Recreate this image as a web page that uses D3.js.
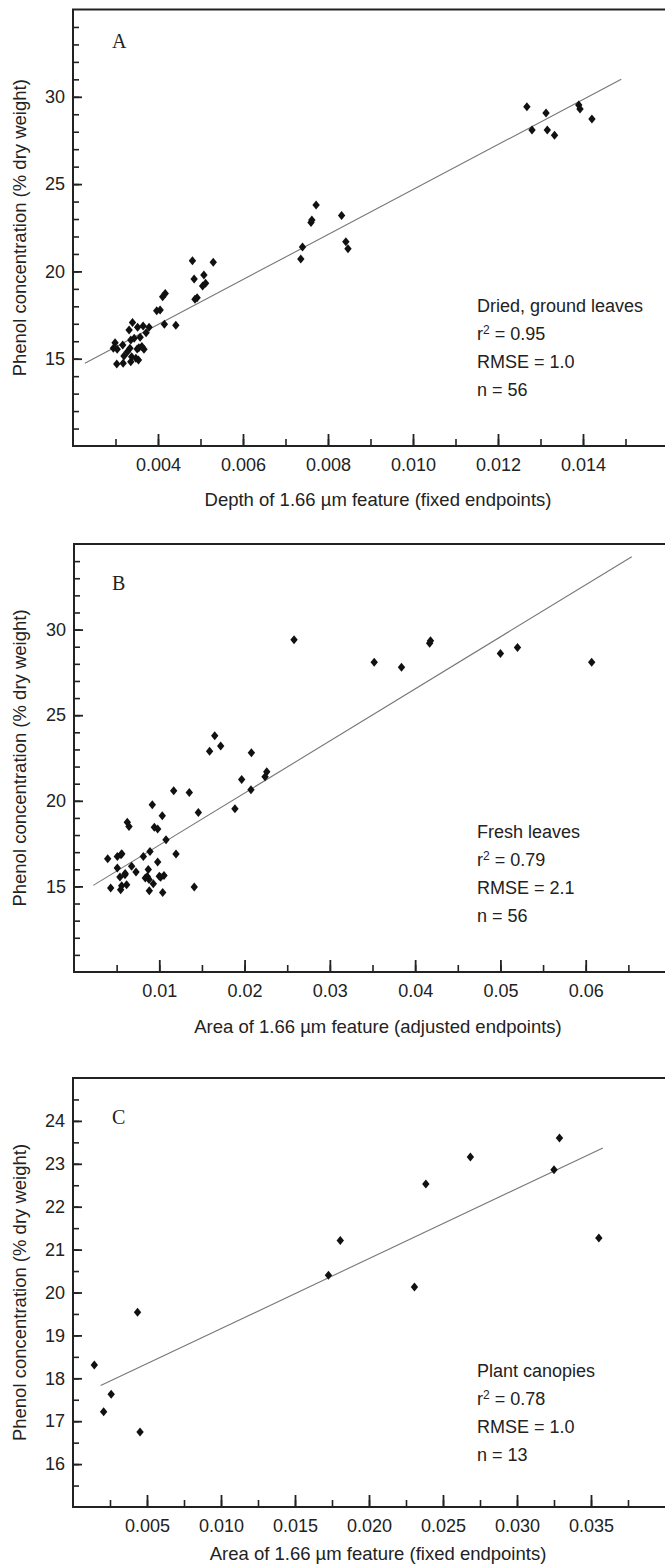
<!DOCTYPE html>
<html>
<head>
<meta charset="utf-8">
<script src="https://cdn.jsdelivr.net/npm/d3@7"></script>
<style>
  body { margin: 0; background: #fff; }
  svg text { font-family: "Liberation Sans", Arial, sans-serif; fill: #222; }
  .letter { font-family: "Liberation Serif", "Times New Roman", serif; }
</style>
</head>
<body>
<div id="main"></div>
<script>
// Panel A - dried, ground leaves
var depthA = [0.00299,0.00295,0.00304,0.00303,0.00318,0.00317,0.00320,0.00332,0.00340,0.00336,
  0.00334,0.00338,0.00336,0.00348,0.00352,0.00344,0.00351,0.00358,0.00365,0.00367,
  0.00372,0.00379,0.00354,0.00355,0.00397,0.00405,0.00411,0.00417,0.00415,0.00442,
  0.00481,0.00485,0.00487,0.00492,0.00508,0.00505,0.00512,0.00530,0.00736,0.00740,
  0.00760,0.00762,0.00772,0.00832,0.00842,0.00847,0.01268,0.01280,0.01313,0.01316,
  0.01333,0.01390,0.01393,0.01421,0.00328,0.00362];
var phenolA = [15.92,15.60,15.54,14.70,14.74,15.78,15.15,16.64,17.08,16.07,
  15.60,15.11,14.83,15.02,16.80,16.17,15.56,16.23,16.87,15.54,
  16.49,16.80,14.93,15.63,17.75,17.79,18.55,18.74,16.97,16.91,
  20.61,19.56,18.40,18.49,19.79,19.16,19.32,20.52,20.71,21.40,
  22.80,22.95,23.80,23.20,21.70,21.30,29.43,28.10,29.07,28.10,
  27.80,29.53,29.30,28.73,15.40,15.70];
var fitXA = [0.00228, 0.0149], fitYA = [14.74, 31.0];

// Panel B - fresh leaves
var areaB = [0.00395,0.00430,0.00508,0.00508,0.00551,0.00539,0.00547,0.00559,0.00598,0.00617,
  0.00625,0.00645,0.00676,0.00727,0.00813,0.00836,0.00859,0.00871,0.00883,0.00891,
  0.00918,0.00930,0.00942,0.00981,0.00981,0.01016,0.01035,0.01040,0.01055,0.01079,
  0.01169,0.01196,0.01352,0.01410,0.01458,0.01887,0.02075,0.01966,0.02240,0.02260,
  0.01590,0.01650,0.01720,0.02080,0.02580,0.03520,0.03840,0.04170,0.04180,0.05000,
  0.05200,0.06070,0.00560,0.00880,0.00600,0.01000];
var phenolB = [16.62,14.91,16.07,16.75,16.85,15.55,14.81,15.04,15.68,15.10,
  18.74,18.50,16.17,15.84,16.75,15.49,15.58,15.98,14.75,17.04,
  19.77,15.16,18.45,18.35,16.43,15.53,19.13,14.65,15.64,17.73,
  20.59,16.89,20.49,14.96,19.32,19.54,20.65,21.25,21.40,21.70,
  22.90,23.80,23.20,22.80,29.40,28.10,27.80,29.20,29.35,28.60,
  28.95,28.10,16.90,15.40,15.75,15.60];
var fitXB = [0.00226, 0.0654], fitYB = [15.06, 34.26];

// Panel C - plant canopies
var areaC = [0.00436,0.01726,0.01806,0.02307,0.02384,0.02685,0.03250,0.03287,0.03553,
  0.00144,0.00258,0.00207,0.00453];
var phenolC = [19.54,20.40,21.21,20.13,22.53,23.16,22.86,23.60,21.27,
  18.31,17.63,17.22,16.75];
var fitXC = [0.00187, 0.0358], fitYC = [17.83, 23.37];

var yTitle = "Phenol concentration (% dry weight)";
var xTitles = ["Depth of 1.66 \u00b5m feature (fixed endpoints)",
               "Area of 1.66 \u00b5m feature (adjusted endpoints)",
               "Area of 1.66 \u00b5m feature (fixed endpoints)"];
var letters = ["A", "B", "C"];
var sampleNames = ["Dried, ground leaves", "Fresh leaves", "Plant canopies"];
var r2 = ["0.95", "0.79", "0.78"];
var rmse = ["1.0", "2.1", "1.0"];
var counts = ["56", "56", "13"];

var W = 665, H = 1566;
var svg = d3.select("#main").append("svg")
    .attr("width", W).attr("height", H);

var diamond = {
  draw: function(ctx, size) {
    var w = 3.7, h = 4.5;
    ctx.moveTo(0, -h); ctx.lineTo(w, 0); ctx.lineTo(0, h); ctx.lineTo(-w, 0); ctx.closePath();
  }
};

var panels = [
  {xs: depthA, ys: phenolA, fx: fitXA, fy: fitYA, top: 9.5, bottom: 446, left: 73,
   xDom: [0.002, 0.016], xRight: 668, yDom: [10, 35],
   xMajor: [0.004, 0.006, 0.008, 0.010, 0.012, 0.014], xMinorStep: 0.001, xFmt: d3.format(".3f"),
   yMajor: [15, 20, 25, 30], yMinorStep: 1, textY: 306, titleY: 500},
  {xs: areaB, ys: phenolB, fx: fitXB, fy: fitYB, top: 544, bottom: 972, left: 74,
   xDom: [0, 0.07], xRight: 671, yDom: [10, 35],
   xMajor: [0.01, 0.02, 0.03, 0.04, 0.05, 0.06], xMinorStep: 0.005, xFmt: d3.format(".2f"),
   yMajor: [15, 20, 25, 30], yMinorStep: 1, textY: 832, titleY: 1027},
  {xs: areaC, ys: phenolC, fx: fitXC, fy: fitYC, top: 1078, bottom: 1507, left: 73,
   xDom: [0, 0.04], xRight: 665, yDom: [15, 25],
   xMajor: [0.005, 0.010, 0.015, 0.020, 0.025, 0.030, 0.035], xMinorStep: 0.0025, xFmt: d3.format(".3f"),
   yMajor: [16, 17, 18, 19, 20, 21, 22, 23, 24], yMinorStep: 0.5, textY: 1371, titleY: 1554}
];

panels.forEach(function(p, i) {
  var x = d3.scaleLinear().domain(p.xDom).range([p.left, p.xRight]);
  var y = d3.scaleLinear().domain(p.yDom).range([p.bottom, p.top]);
  var g = svg.append("g");

  // minor ticks
  var xMinor = d3.range(p.xDom[0] + p.xMinorStep, p.xDom[1] + 1e-9, p.xMinorStep)
      .filter(function(v) { return x(v) < W - 2; });
  var yMinor = d3.range(p.yDom[0] + p.yMinorStep, p.yDom[1] - 1e-9, p.yMinorStep);

  g.append("g").attr("transform", "translate(0," + p.bottom + ")")
    .call(d3.axisBottom(x).tickValues(xMinor).tickSizeInner(-7).tickSizeOuter(0).tickFormat(""))
    .call(function(a) { a.select(".domain").remove(); a.selectAll("line").attr("stroke", "#222").attr("stroke-width", 1.6); });
  g.append("g").attr("transform", "translate(0," + p.bottom + ")")
    .call(d3.axisBottom(x).tickValues(p.xMajor).tickSizeInner(-12).tickSizeOuter(0).tickFormat(p.xFmt))
    .call(function(a) {
      a.select(".domain").remove();
      a.selectAll("line").attr("stroke", "#222").attr("stroke-width", 1.8);
      a.selectAll("text").attr("y", 19).attr("dy", "0.35em").attr("font-size", 18).style("font-family", "Liberation Sans, Arial, sans-serif").attr("fill", "#222");
    });

  g.append("g").attr("transform", "translate(" + p.left + ",0)")
    .call(d3.axisLeft(y).tickValues(yMinor).tickSizeInner(-6).tickSizeOuter(0).tickFormat(""))
    .call(function(a) { a.select(".domain").remove(); a.selectAll("line").attr("stroke", "#222").attr("stroke-width", 1.6); });
  g.append("g").attr("transform", "translate(" + p.left + ",0)")
    .call(d3.axisLeft(y).tickValues(p.yMajor).tickSizeInner(-9).tickSizeOuter(0).tickFormat(d3.format("d")))
    .call(function(a) {
      a.select(".domain").remove();
      a.selectAll("line").attr("stroke", "#222").attr("stroke-width", 1.8);
      a.selectAll("text").attr("x", -8).attr("font-size", 18).style("font-family", "Liberation Sans, Arial, sans-serif").attr("fill", "#222");
    });

  // frame: top, left, bottom
  g.append("path")
    .attr("d", "M" + W + "," + p.top + "H" + p.left + "V" + p.bottom + "H" + W)
    .attr("fill", "none").attr("stroke", "#222").attr("stroke-width", 2);

  // regression line
  g.append("line")
    .attr("x1", x(p.fx[0])).attr("y1", y(p.fy[0]))
    .attr("x2", x(p.fx[1])).attr("y2", y(p.fy[1]))
    .attr("stroke", "#777").attr("stroke-width", 1.1);

  // points
  g.selectAll(".pt").data(d3.range(p.xs.length)).enter().append("path")
    .attr("class", "pt")
    .attr("d", d3.symbol().type(diamond))
    .attr("transform", function(k) { return "translate(" + x(p.xs[k]) + "," + y(p.ys[k]) + ")"; })
    .attr("fill", "#111");

  // panel letter
  g.append("text").attr("class", "letter")
    .attr("x", 112).attr("y", p.top + (i === 0 ? 38.5 : 46))
    .attr("font-size", 20).text(letters[i]);

  // stats block
  var st = g.append("g").attr("transform", "translate(477," + p.textY + ")").attr("font-size", 18);
  st.append("text").attr("y", 0).attr("dy", "0.35em").text(sampleNames[i]);
  var r = st.append("text").attr("y", 28).attr("dy", "0.35em");
  r.append("tspan").text("r");
  r.append("tspan").attr("font-size", 12).attr("dy", "-0.5em").text("2");
  r.append("tspan").attr("dy", "0.33em").text(" = " + r2[i]);
  st.append("text").attr("y", 56).attr("dy", "0.35em").text("RMSE = " + rmse[i]);
  st.append("text").attr("y", 84).attr("dy", "0.35em").text("n = " + counts[i]);

  // axis titles
  g.append("text")
    .attr("x", 378).attr("y", p.titleY).attr("dy", "0.35em")
    .attr("text-anchor", "middle").attr("font-size", 18.5)
    .text(xTitles[i]);
  g.append("text")
    .attr("transform", "translate(20," + ((p.top + p.bottom) / 2) + ") rotate(-90)")
    .attr("dy", "0.35em")
    .attr("text-anchor", "middle").attr("font-size", 18.5)
    .text(yTitle);
});
</script>
</body>
</html>
